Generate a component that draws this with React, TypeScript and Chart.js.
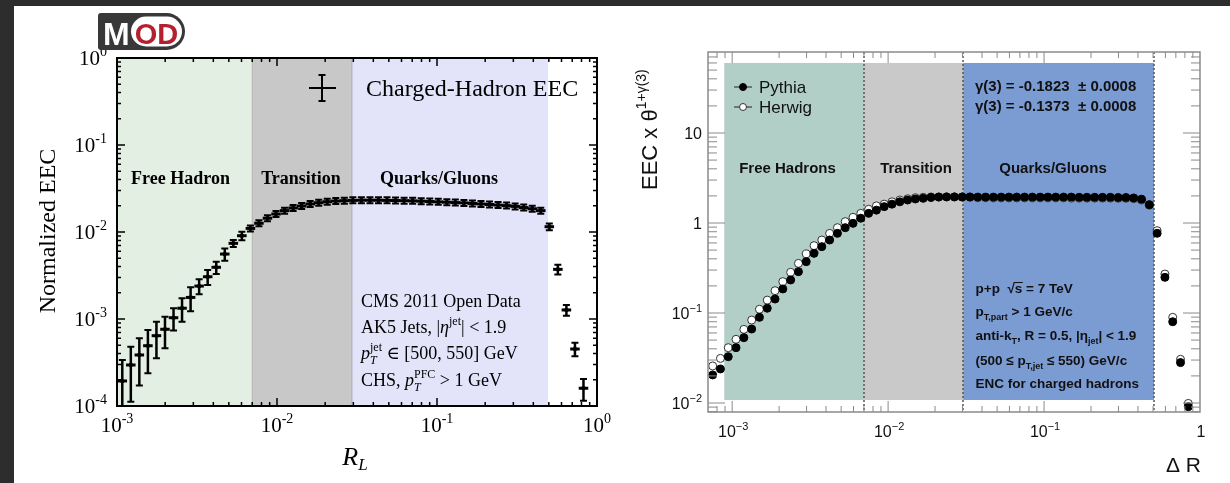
import React, { useEffect, useRef } from "react";
import { Chart, registerables } from "chart.js";

Chart.register(...registerables);

// ---------------- Left panel data (CMS 2011 Open Data, charged-hadron EEC) ----------------
const L_RL = [1.079e-3, 1.220e-3, 1.379e-3, 1.560e-3, 1.764e-3, 1.995e-3, 2.256e-3, 2.550e-3, 2.884e-3, 3.261e-3,
  3.687e-3, 4.171e-3, 4.716e-3, 5.332e-3, 6.030e-3, 6.820e-3, 7.711e-3, 8.717e-3, 9.858e-3, 1.115e-2,
  1.261e-2, 1.426e-2, 1.612e-2, 1.823e-2, 2.061e-2, 2.331e-2, 2.636e-2, 2.980e-2, 3.370e-2, 3.811e-2,
  4.309e-2, 4.873e-2, 5.509e-2, 6.230e-2, 7.045e-2, 7.966e-2, 9.009e-2, 0.1019, 0.1152, 0.1302,
  0.1473, 0.1665, 0.1883, 0.2129, 0.2408, 0.2723, 0.3079, 0.3482, 0.3937, 0.4452,
  0.5035, 0.5693, 0.6438, 0.7280, 0.8232];
const L_EEC = [1.94e-4, 2.96e-4, 3.86e-4, 4.93e-4, 6.43e-4, 7.62e-4, 1.035e-3, 1.33e-3, 1.77e-3, 2.39e-3,
  3.06e-3, 3.93e-3, 5.58e-3, 7.41e-3, 9.06e-3, 1.10e-2, 1.26e-2, 1.44e-2, 1.61e-2, 1.76e-2,
  1.89e-2, 1.99e-2, 2.10e-2, 2.17e-2, 2.23e-2, 2.27e-2, 2.29e-2, 2.31e-2, 2.32e-2, 2.32e-2,
  2.32e-2, 2.31e-2, 2.30e-2, 2.29e-2, 2.28e-2, 2.26e-2, 2.24e-2, 2.22e-2, 2.20e-2, 2.18e-2,
  2.16e-2, 2.13e-2, 2.10e-2, 2.07e-2, 2.04e-2, 2.01e-2, 1.97e-2, 1.91e-2, 1.85e-2, 1.76e-2,
  1.15e-2, 3.72e-3, 1.27e-3, 4.52e-4, 1.60e-4];
const L_ERR = [1.44e-4, 1.84e-4, 2.14e-4, 2.55e-4, 2.88e-4, 3.0e-4, 2.95e-4, 4.0e-4, 5.4e-4, 4.7e-4,
  6.0e-4, 6.3e-4, 9.0e-4, 7.0e-4, 1.0e-3, 5.5e-4, 4.5e-4, 4.0e-4, 3.5e-4, 3.5e-4,
  3e-4, 3e-4, 3e-4, 3e-4, 3e-4, 3e-4, 3e-4, 3e-4, 3e-4, 3e-4,
  3e-4, 3e-4, 3e-4, 3e-4, 3e-4, 3e-4, 3e-4, 3e-4, 3e-4, 3e-4,
  3e-4, 3e-4, 3e-4, 3e-4, 3e-4, 3e-4, 3e-4, 3e-4, 3e-4, 3e-4,
  1.0e-3, 4.7e-4, 1.8e-4, 8e-5, 4.5e-5];
const L_REGION_EDGES = [1e-3, 7.0e-3, 2.95e-2, 0.494];
const L_REGION_NAMES = ["Free Hadron", "Transition", "Quarks/Gluons"];
const L_X_TICKS = [1e-3, 1e-2, 1e-1, 1];
const L_Y_TICKS = [1e-4, 1e-3, 1e-2, 1e-1, 1];
const L_INFO = ["CMS 2011 Open Data", "AK5 Jets", "1.9", "[500, 550] GeV", "1 GeV"];

// ---------------- Right panel data (Pythia vs Herwig ENC) ----------------
const R_DR = [7.50e-4, 8.41e-4, 9.44e-4, 1.059e-3, 1.189e-3, 1.334e-3, 1.496e-3, 1.679e-3, 1.884e-3, 2.113e-3,
  2.371e-3, 2.661e-3, 2.985e-3, 3.350e-3, 3.758e-3, 4.217e-3, 4.732e-3, 5.309e-3, 5.957e-3, 6.683e-3,
  7.499e-3, 8.414e-3, 9.441e-3, 1.059e-2, 1.189e-2, 1.334e-2, 1.496e-2, 1.679e-2, 1.884e-2, 2.113e-2,
  2.371e-2, 2.661e-2, 2.985e-2, 3.350e-2, 3.758e-2, 4.217e-2, 4.732e-2, 5.309e-2, 5.957e-2, 6.683e-2,
  7.499e-2, 8.414e-2, 9.441e-2, 0.1059, 0.1189, 0.1334, 0.1496, 0.1679, 0.1884, 0.2113,
  0.2371, 0.2661, 0.2985, 0.3350, 0.3758, 0.4217, 0.4732, 0.5309, 0.5957, 0.6683,
  0.7499, 0.8414];
const R_PYTHIA = [0.0205, 0.0239, 0.0327, 0.0412, 0.0532, 0.0664, 0.0895, 0.113, 0.143, 0.185,
  0.233, 0.288, 0.372, 0.460, 0.546, 0.647, 0.767, 0.887, 0.991, 1.13,
  1.28, 1.39, 1.52, 1.62, 1.72, 1.80, 1.85, 1.88, 1.92, 1.94,
  1.95, 1.95, 1.95, 1.95, 1.94, 1.94, 1.94, 1.94, 1.94, 1.94,
  1.94, 1.94, 1.94, 1.94, 1.94, 1.94, 1.94, 1.93, 1.93, 1.93,
  1.93, 1.93, 1.92, 1.92, 1.90, 1.84, 1.60, 0.768, 0.249, 0.080,
  0.0281, 0.0091];
const R_HERWIG = [0.0258, 0.0313, 0.0412, 0.051, 0.0658, 0.0835, 0.110, 0.139, 0.177, 0.223,
  0.283, 0.356, 0.453, 0.560, 0.647, 0.767, 0.887, 1.035, 1.156, 1.28,
  1.42, 1.55, 1.62, 1.72, 1.80, 1.86, 1.91, 1.93, 1.95, 1.95,
  1.95, 1.95, 1.94, 1.93, 1.91, 1.91, 1.90, 1.90, 1.90, 1.90,
  1.90, 1.90, 1.90, 1.90, 1.90, 1.90, 1.89, 1.89, 1.89, 1.89,
  1.89, 1.89, 1.88, 1.88, 1.86, 1.80, 1.58, 0.822, 0.271, 0.0895,
  0.0306, 0.0099];
const R_SERIES = ["Pythia", "Herwig"];
const R_REGION_EDGES = [8.9e-4, 7.0e-3, 3.03e-2, 0.507];
const R_REGION_Y = [0.0108, 60];
const R_REGION_NAMES = ["Free Hadrons", "Transition", "Quarks/Gluons"];
const R_X_TICKS = [1e-3, 1e-2, 1e-1, 1];
const R_Y_TICKS = [1e-2, 1e-1, 1, 10];
const R_GAMMA = ["-0.1823", "-0.1373"];
const R_GAMMA_ERR = ["0.0008", "0.0008"];

// ---------------- helpers ----------------
const SERIF = '"Liberation Serif", "DejaVu Serif", serif';
const SANS = '"Liberation Sans", Arial, sans-serif';

type Part = { t: string; f: string; dy?: number; stack?: boolean };

function partsWidth(ctx: CanvasRenderingContext2D, parts: Part[]) {
  let w = 0;
  for (let i = 0; i < parts.length; i++) {
    const p = parts[i];
    ctx.font = p.f;
    let pw = ctx.measureText(p.t).width;
    if (p.stack && i + 1 < parts.length) {
      const q = parts[i + 1];
      ctx.font = q.f;
      pw = Math.max(pw, ctx.measureText(q.t).width);
      i++;
    }
    w += pw;
  }
  return w;
}

function drawParts(ctx: CanvasRenderingContext2D, x: number, y: number, parts: Part[], align = "left", color = "#000") {
  const w = partsWidth(ctx, parts);
  let cx = align === "left" ? x : align === "center" ? x - w / 2 : x - w;
  ctx.fillStyle = color;
  ctx.textAlign = "left";
  ctx.textBaseline = "alphabetic";
  for (let i = 0; i < parts.length; i++) {
    const p = parts[i];
    ctx.font = p.f;
    ctx.fillText(p.t, cx, y + (p.dy || 0));
    let pw = ctx.measureText(p.t).width;
    if (p.stack && i + 1 < parts.length) {
      const q = parts[i + 1];
      ctx.font = q.f;
      ctx.fillText(q.t, cx, y + (q.dy || 0));
      pw = Math.max(pw, ctx.measureText(q.t).width);
      i++;
    }
    cx += pw;
  }
  return w;
}

function logTicks(ctx: CanvasRenderingContext2D, scale: any, axis: string, a: any, majorLen: number, minorLen: number, color: string, lw: number) {
  const min = scale.min, max = scale.max;
  const d0 = Math.floor(Math.log10(min)), d1 = Math.ceil(Math.log10(max));
  ctx.strokeStyle = color;
  ctx.lineWidth = lw;
  ctx.setLineDash([]);
  ctx.beginPath();
  for (let d = d0; d <= d1; d++) {
    for (let k = 1; k <= 9; k++) {
      const v = k * Math.pow(10, d);
      if (v < min * 1.0001 || v > max * 0.9999) continue;
      const len = k === 1 ? majorLen : minorLen;
      const p = scale.getPixelForValue(v);
      if (axis === "x") {
        ctx.moveTo(p, a.bottom); ctx.lineTo(p, a.bottom - len);
        ctx.moveTo(p, a.top); ctx.lineTo(p, a.top + len);
      } else {
        ctx.moveTo(a.left, p); ctx.lineTo(a.left + len, p);
        ctx.moveTo(a.right, p); ctx.lineTo(a.right - len, p);
      }
    }
  }
  ctx.stroke();
}

// ---------------- left chart plugin ----------------
const L_REGION_COLORS = ["#e4efe4", "#c8c8c8", "#e3e3fa"];

const leftPlugin = {
  id: "leftDeco",
  beforeDatasetsDraw(chart: any) {
    const { ctx, chartArea: a, scales } = chart;
    const xs = scales.x, ys = scales.y;
    ctx.save();
    for (let k = 0; k < L_REGION_NAMES.length; k++) {
      const x0 = xs.getPixelForValue(L_REGION_EDGES[k]);
      const x1 = xs.getPixelForValue(L_REGION_EDGES[k + 1]);
      ctx.fillStyle = L_REGION_COLORS[k];
      ctx.fillRect(x0, a.top, x1 - x0, a.bottom - a.top);
    }
    ctx.strokeStyle = "rgba(0,0,0,0.12)";
    ctx.lineWidth = 1.5;
    for (let k = 1; k < L_REGION_EDGES.length - 1; k++) {
      const x0 = xs.getPixelForValue(L_REGION_EDGES[k]);
      ctx.beginPath(); ctx.moveTo(x0, a.top); ctx.lineTo(x0, a.bottom); ctx.stroke();
    }
    // region names
    const nameX = [180.5, 301, 439];
    for (let k = 0; k < L_REGION_NAMES.length; k++) {
      drawParts(ctx, nameX[k], 184, [{ t: L_REGION_NAMES[k], f: `bold 18px ${SERIF}` }], "center");
    }
    // info text
    const tx = 361;
    const it = `18px ${SERIF}`, iti = `italic 18px ${SERIF}`, sm = `12px ${SERIF}`, smi = `italic 12px ${SERIF}`;
    drawParts(ctx, tx, 307, [{ t: L_INFO[0], f: it }]);
    drawParts(ctx, tx, 333, [{ t: L_INFO[1] + ", |", f: it }, { t: "η", f: iti }, { t: "jet", f: sm, dy: -8 }, { t: "| < " + L_INFO[2], f: it }]);
    drawParts(ctx, tx, 359, [{ t: "p", f: iti }, { t: "jet", f: sm, dy: -8, stack: true }, { t: "T", f: smi, dy: 5 }, { t: " ∈ " + L_INFO[3], f: it }]);
    drawParts(ctx, tx, 386, [{ t: "CHS, ", f: it }, { t: "p", f: iti }, { t: "PFC", f: sm, dy: -8, stack: true }, { t: "T", f: smi, dy: 5 }, { t: " > " + L_INFO[4], f: it }]);
    // error bars
    ctx.save();
    ctx.beginPath();
    ctx.rect(a.left, a.top, a.right - a.left, a.bottom - a.top);
    ctx.clip();
    ctx.strokeStyle = "#000";
    ctx.lineCap = "butt";
    for (let i = 0; i < L_RL.length; i++) {
      const xc = xs.getPixelForValue(L_RL[i]);
      const lo = i > 0 ? Math.sqrt(L_RL[i] * L_RL[i - 1]) : L_RL[i] * L_RL[i] / Math.sqrt(L_RL[i] * L_RL[i + 1]);
      const hi = i < L_RL.length - 1 ? Math.sqrt(L_RL[i] * L_RL[i + 1]) : L_RL[i] * L_RL[i] / Math.sqrt(L_RL[i] * L_RL[i - 1]);
      const yc = ys.getPixelForValue(L_EEC[i]);
      const yTop = Math.min(ys.getPixelForValue(L_EEC[i] + L_ERR[i]), yc - 3);
      const yLowV = L_EEC[i] - L_ERR[i];
      const yBot = Math.max(yLowV > 0 ? ys.getPixelForValue(yLowV) : a.bottom + 5, yc + 3);
      ctx.lineWidth = 3;
      ctx.beginPath();
      ctx.moveTo(xs.getPixelForValue(lo) - 0.5, yc); ctx.lineTo(xs.getPixelForValue(hi) + 0.5, yc);
      ctx.stroke();
      ctx.lineWidth = 2.5;
      ctx.beginPath();
      ctx.moveTo(xc, yTop); ctx.lineTo(xc, yBot);
      ctx.stroke();
      ctx.lineWidth = 2;
      ctx.beginPath();
      ctx.moveTo(xc - 3.5, yTop); ctx.lineTo(xc + 3.5, yTop);
      ctx.moveTo(xc - 3.5, yBot); ctx.lineTo(xc + 3.5, yBot);
      ctx.stroke();
    }
    ctx.restore();
    ctx.restore();
  },
  afterDraw(chart: any) {
    const { ctx, chartArea: a, scales } = chart;
    const xs = scales.x, ys = scales.y;
    ctx.save();
    ctx.strokeStyle = "#000";
    ctx.lineWidth = 2;
    ctx.strokeRect(a.left, a.top, a.right - a.left, a.bottom - a.top);
    logTicks(ctx, xs, "x", a, 8, 4, "#000", 1.5);
    logTicks(ctx, ys, "y", a, 8, 4, "#000", 1.5);
    const big = `21px ${SERIF}`, sup = `14px ${SERIF}`;
    for (const v of L_X_TICKS) {
      const e = Math.round(Math.log10(v));
      drawParts(ctx, xs.getPixelForValue(v), a.bottom + 26, [{ t: "10", f: big }, { t: String(e), f: sup, dy: -9 }], "center");
    }
    for (const v of L_Y_TICKS) {
      const e = Math.round(Math.log10(v));
      drawParts(ctx, a.left - 10, ys.getPixelForValue(v) + 7, [{ t: "10", f: big }, { t: String(e), f: sup, dy: -9 }], "right");
    }
    // axis titles
    drawParts(ctx, 355, 465, [{ t: "R", f: `italic 26px ${SERIF}` }, { t: "L", f: `italic 17px ${SERIF}`, dy: 5 }], "center");
    ctx.save();
    ctx.translate(55, 231);
    ctx.rotate(-Math.PI / 2);
    drawParts(ctx, 0, 0, [{ t: "Normalized EEC", f: `24px ${SERIF}` }], "center");
    ctx.restore();
    // title
    drawParts(ctx, 366, 96, [{ t: "Charged-Hadron EEC", f: `24px ${SERIF}` }]);
    // legend cross
    ctx.strokeStyle = "#000";
    ctx.lineWidth = 2;
    ctx.beginPath();
    ctx.moveTo(309, 88); ctx.lineTo(336, 88);
    ctx.moveTo(322, 75); ctx.lineTo(322, 101);
    ctx.moveTo(318.5, 75); ctx.lineTo(325.5, 75);
    ctx.moveTo(318.5, 101); ctx.lineTo(325.5, 101);
    ctx.stroke();
    // MOD logo
    ctx.fillStyle = "#383838";
    ctx.beginPath();
    (ctx as any).roundRect(98, 13, 87, 37, [3, 18.5, 18.5, 3]);
    ctx.fill();
    ctx.fillStyle = "#ffffff";
    ctx.beginPath();
    (ctx as any).roundRect(131, 16.5, 51, 30, 15);
    ctx.fill();
    drawParts(ctx, 103, 44.5, [{ t: "M", f: `bold 32px ${SANS}` }], "left", "#ffffff");
    drawParts(ctx, 156.5, 43.5, [{ t: "OD", f: `bold 29px ${SANS}` }], "center", "#b3202f");
    ctx.restore();
  },
};

// ---------------- right chart plugin ----------------
const R_REGION_COLORS = ["#b2cfc7", "#c9c9c9", "#7b9bd3"];
const R_FRAME = "#8a8a8a";

const rightPlugin = {
  id: "rightDeco",
  beforeDatasetsDraw(chart: any) {
    const { ctx, chartArea: a, scales } = chart;
    const xs = scales.x, ys = scales.y;
    ctx.save();
    const yT = ys.getPixelForValue(R_REGION_Y[1]);
    const yB = ys.getPixelForValue(R_REGION_Y[0]);
    for (let k = 0; k < R_REGION_NAMES.length; k++) {
      const x0 = xs.getPixelForValue(R_REGION_EDGES[k]);
      const x1 = xs.getPixelForValue(R_REGION_EDGES[k + 1]);
      ctx.fillStyle = R_REGION_COLORS[k];
      ctx.fillRect(x0, yT, x1 - x0, yB - yT);
    }
    ctx.strokeStyle = "#555";
    ctx.lineWidth = 1.5;
    ctx.setLineDash([2, 2]);
    for (let k = 1; k < R_REGION_EDGES.length; k++) {
      const x0 = Math.round(xs.getPixelForValue(R_REGION_EDGES[k]));
      ctx.beginPath(); ctx.moveTo(x0, a.top); ctx.lineTo(x0, a.bottom); ctx.stroke();
    }
    ctx.setLineDash([]);
    const nameX = [787.5, 916, 1053];
    for (let k = 0; k < R_REGION_NAMES.length; k++) {
      drawParts(ctx, nameX[k], 172.5, [{ t: R_REGION_NAMES[k], f: `bold 15px ${SANS}` }], "center", "#111");
    }
    // gamma values
    for (let i = 0; i < R_GAMMA.length; i++) {
      drawParts(ctx, 975, 91 + 20 * i, [{ t: `γ(3) = ${R_GAMMA[i]}  ± ${R_GAMMA_ERR[i]}`, f: `bold 15px ${SANS}` }], "left", "#111");
    }
    // info box
    const b = `bold 13.5px ${SANS}`, s = `bold 9px ${SANS}`;
    const tx = 975.5;
    const w1 = drawParts(ctx, tx, 293, [{ t: "p+p  √", f: b }], "left", "#111");
    ctx.font = b;
    const sw = ctx.measureText("s").width;
    drawParts(ctx, tx + w1, 293, [{ t: "s = 7 TeV", f: b }], "left", "#111");
    ctx.strokeStyle = "#111"; ctx.lineWidth = 1;
    ctx.beginPath(); ctx.moveTo(tx + w1 - 1, 282.5); ctx.lineTo(tx + w1 + sw + 0.5, 282.5); ctx.stroke();
    drawParts(ctx, tx, 316, [{ t: "p", f: b }, { t: "T,part", f: s, dy: 4 }, { t: " > 1 GeV/c", f: b }], "left", "#111");
    drawParts(ctx, tx, 340, [{ t: "anti-k", f: b }, { t: "T", f: s, dy: 4 }, { t: ", R = 0.5, |η", f: b }, { t: "jet", f: s, dy: 4 }, { t: "| < 1.9", f: b }], "left", "#111");
    drawParts(ctx, tx, 364.5, [{ t: "(500 ≤ p", f: b }, { t: "T,jet", f: s, dy: 4 }, { t: " ≤ 550) GeV/c", f: b }], "left", "#111");
    drawParts(ctx, tx, 388, [{ t: "ENC for charged hadrons", f: b }], "left", "#111");
    ctx.restore();
  },
  afterDraw(chart: any) {
    const { ctx, chartArea: a, scales } = chart;
    const xs = scales.x, ys = scales.y;
    ctx.save();
    logTicks(ctx, xs, "x", a, 11, 6, R_FRAME, 1);
    logTicks(ctx, ys, "y", a, 17, 9, R_FRAME, 1);
    ctx.strokeStyle = R_FRAME;
    ctx.lineWidth = 1.5;
    ctx.strokeRect(a.left, a.top, a.right - a.left, a.bottom - a.top);
    const big = `16px ${SANS}`, sup = `11px ${SANS}`;
    const label = (v: number): Part[] => {
      const e = Math.round(Math.log10(v));
      if (e === 0) return [{ t: "1", f: big }];
      if (e === 1) return [{ t: "10", f: big }];
      return [{ t: "10", f: big }, { t: (e < 0 ? "−" : "") + Math.abs(e), f: sup, dy: -7 }];
    };
    for (const v of R_X_TICKS) drawParts(ctx, xs.getPixelForValue(v) + 1, a.bottom + 25, label(v), "center", "#111");
    for (const v of R_Y_TICKS) drawParts(ctx, a.left - 6, ys.getPixelForValue(v) + 5.5, label(v), "right", "#111");
    drawParts(ctx, 1201, 472, [{ t: "Δ R", f: `21px ${SANS}` }], "right", "#111");
    ctx.save();
    ctx.translate(657, 190);
    ctx.rotate(-Math.PI / 2);
    drawParts(ctx, 0, 0, [{ t: "EEC x θ", f: `22px ${SANS}` }, { t: "1+γ(3)", f: `14px ${SANS}`, dy: -11 }], "left", "#111");
    ctx.restore();
    // legend
    const ly = [87, 107];
    for (let i = 0; i < R_SERIES.length; i++) {
      ctx.strokeStyle = "#222"; ctx.lineWidth = 1;
      ctx.beginPath(); ctx.moveTo(734, ly[i]); ctx.lineTo(752, ly[i]); ctx.stroke();
      ctx.beginPath(); ctx.arc(743, ly[i], 3.5, 0, Math.PI * 2);
      ctx.fillStyle = i === 0 ? "#000" : "#fff";
      ctx.fill();
      ctx.strokeStyle = i === 0 ? "#000" : "#333";
      ctx.stroke();
      drawParts(ctx, 759, ly[i] + 6, [{ t: R_SERIES[i], f: `17px ${SANS}` }], "left", "#111");
    }
    ctx.restore();
  },
};

export default function App() {
  const leftRef = useRef<HTMLCanvasElement>(null);
  const rightRef = useRef<HTMLCanvasElement>(null);
  useEffect(() => {
    const c1 = new Chart(leftRef.current as HTMLCanvasElement, {
      type: "scatter",
      data: {
        datasets: [{
          label: "Charged-Hadron EEC",
          data: L_RL.map((x, i) => ({ x, y: L_EEC[i] })),
          pointStyle: "rect",
          pointRadius: 2.5,
          backgroundColor: "#000",
          borderColor: "#000",
          borderWidth: 0,
        }],
      },
      options: {
        animation: false,
        responsive: false,
        devicePixelRatio: 1,
        events: [],
        layout: { padding: { left: 117, right: 633, top: 58, bottom: 77 } },
        scales: {
          x: { type: "logarithmic", min: 1e-3, max: 1, display: false },
          y: { type: "logarithmic", min: 1e-4, max: 1, display: false },
        },
        plugins: { legend: { display: false }, tooltip: { enabled: false } },
      },
      plugins: [leftPlugin],
    } as any);
    const c2 = new Chart(rightRef.current as HTMLCanvasElement, {
      type: "scatter",
      data: {
        datasets: [
          {
            label: R_SERIES[0],
            data: R_DR.map((x, i) => ({ x, y: R_PYTHIA[i] })),
            pointRadius: 4,
            backgroundColor: "#000",
            borderColor: "#000",
            borderWidth: 1,
          },
          {
            label: R_SERIES[1],
            data: R_DR.map((x, i) => ({ x, y: R_HERWIG[i] })),
            pointRadius: 4,
            backgroundColor: "#fff",
            borderColor: "#333",
            borderWidth: 1,
          },
        ],
      },
      options: {
        animation: false,
        responsive: false,
        devicePixelRatio: 1,
        events: [],
        layout: { padding: { left: 708, right: 30, top: 52, bottom: 71 } },
        scales: {
          x: { type: "logarithmic", min: 7e-4, max: 1, display: false },
          y: { type: "logarithmic", min: Math.pow(10, -2.1), max: Math.pow(10, 1.9), display: false },
        },
        plugins: { legend: { display: false }, tooltip: { enabled: false } },
      },
      plugins: [rightPlugin],
    } as any);
    return () => {
      c1.destroy();
      c2.destroy();
    };
  }, []);
  return (
    <div style={{ position: "fixed", left: 0, top: 0, width: 1230, height: 483, background: "#2d2d2d", overflow: "hidden" }}>
      <div style={{ position: "absolute", left: 14, top: 6, right: 0, bottom: 0, background: "#fff" }} />
      <canvas ref={leftRef} width={1230} height={483} style={{ position: "absolute", left: 0, top: 0 }} />
      <canvas ref={rightRef} width={1230} height={483} style={{ position: "absolute", left: 0, top: 0 }} />
    </div>
  );
}
